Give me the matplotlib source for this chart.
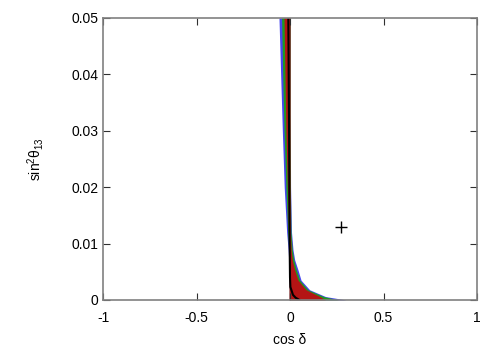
import matplotlib
matplotlib.use('Agg')
import matplotlib.pyplot as plt

plt.rcParams['font.family'] = ['Liberation Sans', 'DejaVu Sans']
plt.rcParams['mathtext.default'] = 'regular'

# sin^2(theta13) levels at which the region boundaries were read
s13 = [0.0, 0.0006, 0.0018, 0.0035, 0.0053, 0.0071, 0.0089, 0.012, 0.02, 0.03, 0.04, 0.05]

# left / right boundaries (cos delta) of each allowed region
blue_left = [-0.004, -0.004, -0.004, -0.005, -0.006, -0.007, -0.010, -0.018, -0.031, -0.041, -0.050, -0.059]
blue_right = [0.30, 0.19, 0.105, 0.059, 0.043, 0.025, 0.016, 0.008, 0.003, 0.002, 0.002, 0.002]
green_left = [-0.004, -0.004, -0.004, -0.004, -0.005, -0.005, -0.007, -0.012, -0.022, -0.032, -0.039, -0.045]
green_right = [0.26, 0.18, 0.096, 0.052, 0.034, 0.020, 0.012, 0.005, 0.002, 0.001, 0.001, 0.001]
red_left = [-0.005, -0.005, -0.005, -0.005, -0.005, -0.005, -0.006, -0.008, -0.014, -0.022, -0.027, -0.032]
red_right = [0.19, 0.16, 0.086, 0.043, 0.025, 0.012, 0.006, 0.002, 0.0, 0.0, 0.0, 0.0]

# best-fit (black) contour
black_s13 = [0.0, 0.0004, 0.0009, 0.0023, 0.004, 0.01, 0.03, 0.05]
black_cos = [0.05, 0.03, 0.016, 0.002, 0.0, -0.002, -0.005, -0.009]

# marker
mark_cos = [0.273]
mark_s13 = [0.0129]

fig = plt.figure(figsize=(5, 3.5), dpi=100)
ax = fig.add_axes([0.206, 0.143, 0.748, 0.806])

ax.fill_betweenx(s13, blue_left, blue_right, color='#4646f0', lw=0)
ax.fill_betweenx(s13, green_left, green_right, color='#1f9a1f', lw=0)
ax.fill_betweenx(s13, red_left, red_right, color='#b41414', lw=0)
ax.plot(black_cos, black_s13, color='black', lw=1.5)
ax.plot(mark_cos, mark_s13, marker='+', color='black', ms=8, mew=1, ls='none')

ax.set_xlim(-1, 1)
ax.set_ylim(0, 0.05)
ax.set_xticks([-1, -0.5, 0, 0.5, 1])
ax.set_xticklabels(['-1', '-0.5', '0', '0.5', '1'])
ax.set_yticks([0, 0.01, 0.02, 0.03, 0.04, 0.05])
ax.set_yticklabels(['0', '0.01', '0.02', '0.03', '0.04', '0.05'])
ax.tick_params(direction='in', top=True, right=True, length=5, labelsize=10, width=0.8, color='#303030')
ax.tick_params(axis='x', pad=8)
for sp in ax.spines.values():
    sp.set_color('#808080')
    sp.set_linewidth(1.2)

ax.set_xlabel('cos δ', fontsize=10, labelpad=6)
ax.set_ylabel('sin$^2$θ$_{13}$', fontsize=10, labelpad=18)

fig.savefig('out.png', dpi=100)
